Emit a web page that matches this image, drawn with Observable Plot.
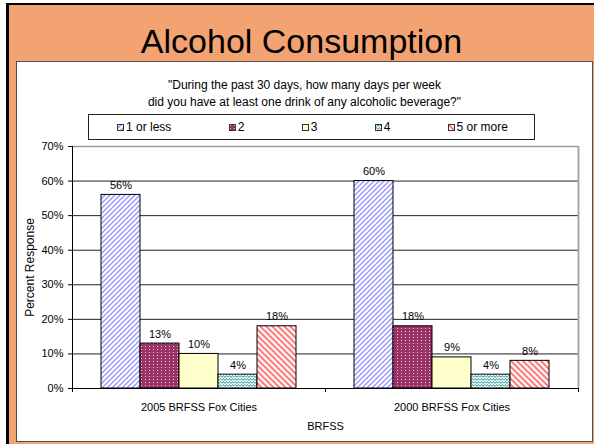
<!DOCTYPE html>
<html>
<head>
<meta charset="utf-8">
<script src="https://cdn.jsdelivr.net/npm/d3@7"></script>
<script src="https://cdn.jsdelivr.net/npm/@observablehq/plot@0.6"></script>
<style>
  html, body { margin: 0; padding: 0; background: #fff; }
  body { width: 594px; height: 444px; position: relative; overflow: hidden; font-family: Arial, "Liberation Sans", sans-serif; color: #000; }
  #frame { position: absolute; left: 6px; top: 3px; width: 585px; height: 439px; background: #F3A371; border-left: 3px solid #000; border-top: 2px solid #000; }
  #panel { position: absolute; left: 16px; top: 61px; width: 577px; height: 381px; box-sizing: border-box; background: #fff; border: 1px solid #505050; }
  #title { position: absolute; left: 9px; width: 585px; top: 22px; text-align: center; font-size: 34px; line-height: 38px; }
  #question { position: absolute; left: 16px; width: 577px; top: 77px; text-align: center; font-size: 12px; line-height: 17px; }
  #legend { position: absolute; left: 88px; top: 114px; width: 447px; height: 26px; box-sizing: border-box; border: 1px solid #222; display: flex; align-items: center; justify-content: space-between; padding-left: 28px; padding-right: 26px; font-size: 12px; }
  .item { display: flex; align-items: center; white-space: nowrap; }
  .item svg { margin-right: 2px; }
  #chart { position: absolute; left: 0; top: 0; }
</style>
</head>
<body>
<div id="frame"></div>
<div id="panel"></div>
<div id="title"></div>
<div id="question"></div>
<div id="legend"></div>
<div id="chart"></div>
<script>
// ---- data ----
const titleText = "Alcohol Consumption";
const questionLines = ["\"During the past 30 days, how many days per week", "did you have at least one drink of any alcoholic beverage?\""];
const categories = ["1 or less", "2", "3", "4", "5 or more"];
const groups = ["2005 BRFSS Fox Cities", "2000 BRFSS Fox Cities"];
const values2005 = [56, 13, 10, 4, 18];
const values2000 = [60, 18, 9, 4, 8];
const yTicks = [0, 10, 20, 30, 40, 50, 60, 70];
const xTitle = "BRFSS";
const yTitle = "Percent Response";

// ---- table ----
const seriesByGroup = [values2005, values2000];
const rows = groups.flatMap((g, gi) => categories.map((c, ci) => ({group: g, gi, cat: c, ci, value: seriesByGroup[gi][ci]})));

// layout of bars inside a group (fraction of a group's width)
const barW = 39 / 253;
const groupPad = (1 - categories.length * barW) / 2;
const bx1 = d => d.gi + groupPad + d.ci * barW;
const bx2 = d => bx1(d) + barW;
const patternIds = categories.map((c, i) => "pat" + i);

document.getElementById("title").textContent = titleText;
document.getElementById("question").innerHTML = questionLines.map(s => s.replace(/&/g, "&amp;").replace(/</g, "&lt;")).join("<br>");

const chart = Plot.plot({
  width: 594,
  height: 444,
  marginTop: 146,
  marginBottom: 56,
  marginLeft: 72,
  marginRight: 16,
  style: {background: "transparent", fontFamily: "Arial, 'Liberation Sans', sans-serif", fontSize: "11px", color: "#000", overflow: "visible"},
  x: {domain: [0, groups.length]},
  y: {domain: [0, 70]},
  color: {type: "ordinal", domain: categories, range: patternIds.map(id => `url(#${id})`)},
  marks: [
    Plot.ruleY(yTicks.filter(t => t > 0 && t < 70), {stroke: "#222", strokeWidth: 1}),
    Plot.ruleY([70], {stroke: "#9a9a9a", strokeWidth: 1.5}),
    Plot.ruleX([groups.length], {stroke: "#a8a8a8", strokeWidth: 2}),
    Plot.rect(rows, {x1: bx1, x2: bx2, y1: 0, y2: "value", fill: "cat", stroke: "#000", strokeWidth: 1}),
    Plot.ruleY([0], {stroke: "#000"}),
    Plot.ruleX([0], {stroke: "#000"}),
    Plot.axisY({ticks: yTicks, tickSize: 4, tickPadding: 5, tickFormat: d => d + "%", label: null}),
    Plot.axisX({ticks: d3.range(groups.length + 1), tickSize: 4, tickFormat: () => "", label: null}),
    Plot.text(rows, {x: d => (bx1(d) + bx2(d)) / 2, y: "value", text: d => d.value + "%", lineAnchor: "bottom", dy: -6, fill: "#000"}),
    Plot.text(groups, {x: (d, i) => i + 0.5, text: d => d, frameAnchor: "bottom", lineAnchor: "middle", dy: 19, fill: "#000"}),
    Plot.text([xTitle], {frameAnchor: "bottom", textAnchor: "middle", lineAnchor: "middle", dy: 38, fill: "#000"}),
    Plot.text([yTitle], {frameAnchor: "left", textAnchor: "middle", lineAnchor: "middle", rotate: -90, dx: -42, fill: "#000", fontSize: 12})
  ]
});

// patterns
const defs = d3.select(chart).insert("defs", ":first-child");
function pattern(id, w, h, bg) {
  const p = defs.append("pattern").attr("id", id).attr("patternUnits", "userSpaceOnUse").attr("width", w).attr("height", h);
  p.append("rect").attr("width", w).attr("height", h).attr("fill", bg);
  return p;
}
// 1 or less: blue upward diagonal
pattern(patternIds[0], 5, 5, "#fff").append("path").attr("d", "M0,5L5,0M-1,1L1,-1M4,6L6,4").attr("stroke", "#9a9aff").attr("stroke-width", 1.5);
// 2: purple with dots
pattern(patternIds[1], 4, 3, "#993366").append("rect").attr("x", 1).attr("y", 1).attr("width", 1).attr("height", 1).attr("fill", "#f2c4de");
// 3: pale yellow
pattern(patternIds[2], 4, 4, "#ffffcc");
// 4: teal waves
pattern(patternIds[3], 6, 3, "#fff").append("path").attr("d", "M0,2.5L1.5,0.5L3,2.5L4.5,0.5L6,2.5").attr("fill", "none").attr("stroke", "#2e9e9e").attr("stroke-width", 1);
// 5 or more: salmon downward diagonal
pattern(patternIds[4], 6, 6, "#fff").append("path").attr("d", "M0,0L6,6M-1,5L1,7M5,-1L7,1").attr("stroke", "#ff7f7f").attr("stroke-width", 2.2);

document.getElementById("chart").appendChild(chart);

// legend
const legend = d3.select("#legend");
categories.forEach((c, i) => {
  const item = legend.append("div").attr("class", "item");
  const s = item.append("svg").attr("width", 7).attr("height", 7);
  s.append("rect").attr("x", 0.5).attr("y", 0.5).attr("width", 6).attr("height", 6).attr("fill", `url(#${patternIds[i]})`).attr("stroke", "#333");
  item.append("span").text(c);
});
</script>
</body>
</html>
